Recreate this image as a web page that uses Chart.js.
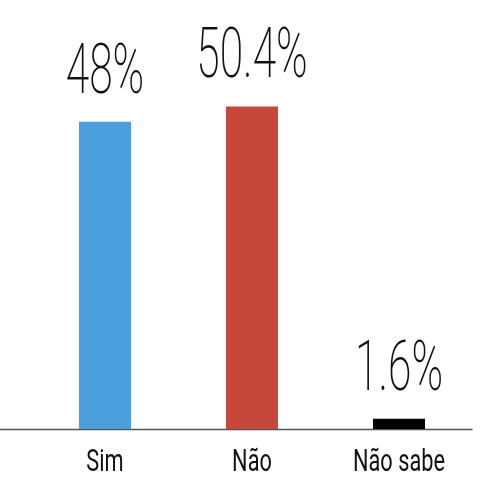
<!DOCTYPE html>
<html>
<head>
<meta charset="utf-8">
<script src="https://cdn.jsdelivr.net/npm/chart.js@4/dist/chart.umd.min.js"></script>
<style>
  html, body { margin: 0; padding: 0; background: #fff; }
  #wrap { width: 493px; height: 493px; }
</style>
</head>
<body>
<div id="wrap"><canvas id="chart" width="493" height="493"></canvas></div>
<script>
// Dados
const categories = ['Sim', 'Não', 'Não sabe'];
const values = [48, 50.4, 1.6];
const valueLabels = ['48%', '50.4%', '1.6%'];
const barColors = ['#4a9fdc', '#c6483d', '#000000'];

// Rótulos com fonte "condensada" (escala horizontal)
function drawCondensed(ctx, text, x, y, font, scaleX) {
    ctx.save();
    ctx.translate(x, y);
    ctx.scale(scaleX, 1);
    ctx.font = font;
    ctx.textAlign = 'center';
    ctx.textBaseline = 'alphabetic';
    ctx.fillStyle = '#111';
    ctx.fillText(text, 0, 0);
    ctx.restore();
}

const labelsPlugin = {
    id: 'labels',
    beforeDatasetsDraw(chart) {
        const ctx = chart.ctx;
        const area = chart.chartArea;
        // linha base
        ctx.save();
        ctx.strokeStyle = '#555';
        ctx.lineWidth = 1.5;
        ctx.beginPath();
        ctx.moveTo(0, area.bottom + 0.5);
        ctx.lineTo(area.right, area.bottom + 0.5);
        ctx.stroke();
        ctx.restore();
    },
    afterDatasetsDraw(chart) {
        const ctx = chart.ctx;
        const meta = chart.getDatasetMeta(0);
        meta.data.forEach((bar, i) => {
            drawCondensed(ctx, valueLabels[i], bar.x, bar.y - 29, '200 71px Roboto', 0.6);
            drawCondensed(ctx, categories[i], bar.x, chart.chartArea.bottom + 42, '400 32px Roboto', 0.68);
        });
    }
};

new Chart(document.getElementById('chart'), {
    type: 'bar',
    data: {
        labels: categories,
        datasets: [{
            data: values,
            backgroundColor: barColors,
            barPercentage: 0.354,
            categoryPercentage: 1
        }]
    },
    options: {
        responsive: false,
        animation: false,
        layout: { padding: { left: 31.5, right: 20.5, top: 45, bottom: 64 } },
        plugins: { legend: { display: false }, tooltip: { enabled: false } },
        scales: {
            x: { display: false },
            y: { display: false, min: 0, max: 60 }
        }
    },
    plugins: [labelsPlugin]
});
</script>
</body>
</html>
